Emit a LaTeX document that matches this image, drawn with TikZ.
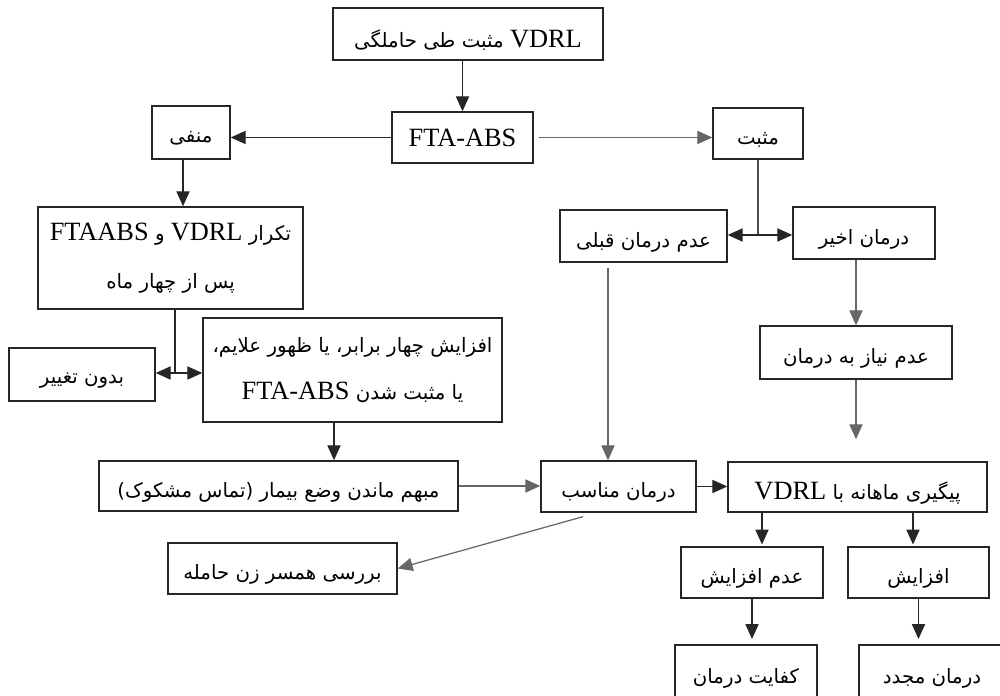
\documentclass[tikz,border=0pt]{standalone}
\usepackage{fontspec}
\setmainfont{Liberation Serif}
\newfontfamily\farsifont[Script=Arabic,Scale=0.75]{DejaVu Sans}
\TeXXeTstate=1
\usetikzlibrary{arrows.meta,positioning}

\newcommand{\fa}[1]{{\farsifont\beginR #1\endR}}
\newcommand{\faline}[1]{\raisebox{-3.5pt}[\height][\depth]{\fa{#1}}}
\newcommand{\en}[1]{{\rmfamily\beginL #1\endL}}

\tikzset{
  box/.style={draw=black!85, line width=0.8pt, inner sep=2pt, align=center,
              font=\fontsize{15}{27}\selectfont},
  arr/.style={-{Triangle[length=8.5pt,width=7.5pt]}, line width=0.7pt, draw=black!85},
  garr/.style={arr, draw=black!60},
  twoway/.style={{Triangle[length=8.5pt,width=7.5pt]}-{Triangle[length=8.5pt,width=7.5pt]},
                 line width=0.7pt, draw=black!85}
}

\begin{document}
\begin{tikzpicture}
\useasboundingbox (0,0) rectangle (20,13.92);
% Top of the chart
\node[box,minimum width=5.4cm,minimum height=1.04cm] (start) at (9.36,13.24)
  {\faline{\en{VDRL} مثبت طی حاملگی}};
\node[box,minimum width=2.82cm,minimum height=1.02cm] (fta) at (9.25,11.17) {FTA-ABS};
\node[box,minimum width=1.56cm,minimum height=1.06cm] (neg) at (3.82,11.27) {\faline{منفی}};
\node[box,minimum width=1.8cm,minimum height=1.02cm] (pos) at (15.16,11.25) {\faline{مثبت}};
% Negative branch
\node[box,minimum width=5.3cm,minimum height=2.04cm] (repeat) at (3.41,8.76)
  {\fa{تکرار \en{VDRL} و \en{FTAABS}}\\\fa{پس از چهار ماه}};
\node[box,minimum width=2.92cm,minimum height=1.06cm] (nochange) at (1.64,6.43) {\faline{بدون تغییر}};
\node[box,minimum width=5.98cm,minimum height=2.08cm] (rise) at (7.05,6.52)
  {\fa{افزایش چهار برابر، یا ظهور علایم،}\\\fa{یا مثبت شدن \en{FTA-ABS}}};
\node[box,minimum width=7.18cm,minimum height=1.0cm] (unclear) at (5.57,4.20)
  {\faline{مبهم ماندن وضع بیمار (تماس مشکوک)}};
\node[box,minimum width=4.58cm,minimum height=1.02cm] (partner) at (5.65,2.55)
  {\faline{بررسی همسر زن حامله}};
% Positive branch
\node[box,minimum width=3.34cm,minimum height=1.04cm] (notreated) at (12.87,9.20) {\faline{عدم درمان قبلی}};
\node[box,minimum width=2.84cm,minimum height=1.04cm] (recent) at (17.28,9.26) {\faline{درمان اخیر}};
\node[box,minimum width=3.84cm,minimum height=1.06cm] (noneed) at (17.12,6.87) {\faline{عدم نیاز به درمان}};
\node[box,minimum width=3.1cm,minimum height=1.02cm] (treat) at (12.37,4.19) {\faline{درمان مناسب}};
\node[box,minimum width=5.18cm,minimum height=1.0cm] (follow) at (17.15,4.18)
  {\faline{پیگیری ماهانه با \en{VDRL}}};
\node[box,minimum width=2.84cm,minimum height=1.02cm] (norise) at (15.04,2.47) {\faline{عدم افزایش}};
\node[box,minimum width=2.82cm,minimum height=1.02cm] (risen) at (18.37,2.47) {\faline{افزایش}};
\node[box,minimum width=2.84cm,minimum height=1.1cm] (enough) at (14.92,0.47) {\faline{کفایت درمان}};
\node[box,minimum width=2.92cm,minimum height=1.1cm] (retreat) at (18.64,0.47) {\faline{درمان مجدد}};
% Forks
\coordinate (forkL) at (3.5,6.46);
\coordinate (forkR) at (15.18,9.22);
% Arrows
\draw[arr] (fta.north |- start.south) -- (fta.north);
\draw[arr] (fta.west) -- (fta.west -| neg.east);
\draw[garr,shorten <=0.1cm] (fta.east) -- (fta.east -| pos.west);
\draw[arr] ([xshift=-0.16cm]neg.south) -- ([xshift=-0.16cm]neg.south |- repeat.north);
\draw[line width=0.7pt,draw=black!85] (forkL |- repeat.south) -- (forkL);
\draw[twoway] (forkL -| nochange.east) -- (forkL -| rise.west);
\draw[arr] ([xshift=-0.37cm]rise.south) -- ([xshift=-0.37cm]rise.south |- unclear.north);
\draw[garr] (unclear.east) -- (unclear.east -| treat.west);
\draw[garr] (treat.south) ++(-0.71cm,-0.08cm) -- (partner.east);
\draw[line width=0.7pt,draw=black!70] (pos.south) -- (pos.south |- forkR);
\draw[twoway] (forkR -| notreated.east) -- (forkR -| recent.west);
\draw[garr,shorten <=0.1cm] ([xshift=-0.21cm]treat.north |- notreated.south) -- ([xshift=-0.21cm]treat.north);
\draw[garr] (noneed.north |- recent.south) -- (noneed.north);
\draw[garr,shorten >=0.44cm] (noneed.south) -- (noneed.south |- follow.north);
\draw[arr] (treat.east) -- (treat.east -| follow.west);
\draw[arr,shorten >=1pt] ([xshift=0.2cm]norise.north |- follow.south) -- ([xshift=0.2cm]norise.north);
\draw[arr,shorten >=1pt] ([xshift=-0.11cm]risen.north |- follow.south) -- ([xshift=-0.11cm]risen.north);
\draw[arr,shorten >=3pt] (norise.south) -- (norise.south |- enough.north);
\draw[arr,shorten >=3pt] (risen.south) -- (risen.south |- retreat.north);
\end{tikzpicture}
\end{document}
